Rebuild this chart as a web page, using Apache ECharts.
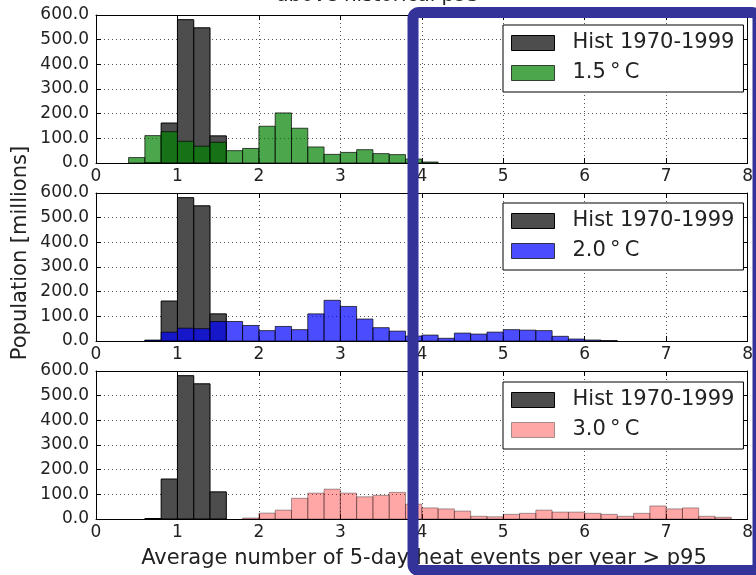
<!DOCTYPE html>
<html>
<head>
<meta charset="utf-8">
<script src="https://cdn.jsdelivr.net/npm/echarts@6/dist/echarts.min.js"></script>
<style>
  html, body { margin: 0; padding: 0; background: #fff; }
  #chart { width: 756px; height: 575px; }
</style>
</head>
<body>
<div id="chart"></div>
<script>
// left edges of the 0.2-wide bins
const binEdges = [
  0.0, 0.2, 0.4, 0.6, 0.8, 1.0, 1.2, 1.4, 1.6, 1.8,
  2.0, 2.2, 2.4, 2.6, 2.8, 3.0, 3.2, 3.4, 3.6, 3.8,
  4.0, 4.2, 4.4, 4.6, 4.8, 5.0, 5.2, 5.4, 5.6, 5.8,
  6.0, 6.2, 6.4, 6.6, 6.8, 7.0, 7.2, 7.4, 7.6, 7.8,
]
const BIN = 0.2

// population (millions) per bin
const hist = [
  0, 0, 0, 2, 162, 581, 548, 110, 0, 0,
  0, 0, 0, 0, 0, 0, 0, 0, 0, 0,
  0, 0, 0, 0, 0, 0, 0, 0, 0, 0,
  0, 0, 0, 0, 0, 0, 0, 0, 0, 0,
]
const warm15 = [
  0, 0, 22, 111, 127, 88, 68, 84, 50, 59,
  149, 203, 141, 65, 35, 43, 54, 38, 34, 16,
  4, 0, 0, 0, 0, 0, 0, 0, 0, 0,
  0, 0, 0, 0, 0, 0, 0, 0, 0, 0,
]
const warm20 = [
  0, 0, 0, 4, 36, 52, 50, 79, 79, 63,
  42, 59, 46, 110, 165, 140, 89, 54, 40, 20,
  24, 11, 32, 28, 36, 46, 44, 42, 19, 8,
  4, 2, 0, 0, 0, 0, 0, 0, 0, 0,
]
const warm30 = [
  0, 0, 0, 0, 0, 0, 0, 0, 0, 4,
  24, 36, 84, 105, 121, 105, 90, 96, 108, 60,
  45, 41, 32, 11, 9, 19, 23, 36, 28, 28,
  23, 19, 11, 23, 53, 41, 45, 11, 7, 0,
]

const HIST_NAME = 'Hist 1970-1999'
const FONT = 'DejaVu Sans'
const TEXT = '#222'

const panels = [
  { top: 15, name: '1.5\u2009°\u2009C', values: warm15, fill: 'rgba(0,128,0,0.7)', stroke: 'rgba(0,0,0,0.7)', legendTop: 25 },
  { top: 193, name: '2.0\u2009°\u2009C', values: warm20, fill: 'rgba(0,0,255,0.7)', stroke: 'rgba(0,0,0,0.7)', legendTop: 203 },
  { top: 371, name: '3.0\u2009°\u2009C', values: warm30, fill: 'rgba(255,0,0,0.35)', stroke: 'rgba(0,0,0,0.35)', legendTop: 382 },
]

const renderBin = (params, api) => {
  const v = api.value(1)
  if (!v) return null
  const start = api.coord([api.value(0), 0])
  const end = api.coord([api.value(0) + BIN, v])
  return {
    type: 'rect',
    shape: { x: start[0], y: end[1], width: end[0] - start[0], height: start[1] - end[1] },
    style: api.style(),
  }
}

const toData = values => binEdges.map((e, i) => [e, values[i]])

const grid = []
const xAxis = []
const yAxis = []
const series = []
const legend = []

panels.forEach((p, k) => {
  grid.push({ left: 96, right: 4, top: p.top, height: 148 })

  const tick = { show: true, inside: true, length: 5, lineStyle: { color: '#000' } }
  const line = { show: true, onZero: false, lineStyle: { color: '#000', width: 1 } }
  const split = { show: true, lineStyle: { color: '#555', type: [1, 3], width: 1 } }

  xAxis.push({
    type: 'value', gridIndex: k, min: 0, max: 8, interval: 1, position: 'bottom',
    axisLine: line, axisTick: tick, splitLine: split,
    axisLabel: { margin: 5, color: TEXT, fontSize: 17, fontFamily: FONT },
  })
  xAxis.push({
    type: 'value', gridIndex: k, min: 0, max: 8, interval: 1, position: 'top',
    axisLine: line, axisTick: tick, splitLine: { show: false }, axisLabel: { show: false },
  })
  yAxis.push({
    type: 'value', gridIndex: k, min: 0, max: 600, interval: 100, position: 'left',
    axisLine: line, axisTick: tick, splitLine: split,
    axisLabel: { margin: 7, color: TEXT, fontSize: 17, fontFamily: FONT, formatter: v => v.toFixed(1) },
  })
  yAxis.push({
    type: 'value', gridIndex: k, min: 0, max: 600, interval: 100, position: 'right',
    axisLine: line, axisTick: tick, splitLine: { show: false }, axisLabel: { show: false },
  })

  series.push({
    type: 'custom', name: HIST_NAME, xAxisIndex: 2 * k, yAxisIndex: 2 * k,
    renderItem: renderBin, clip: true, encode: { x: 0, y: 1 },
    itemStyle: { color: '#4d4d4d', borderColor: '#000', borderWidth: 1 },
    data: toData(hist),
  })
  series.push({
    type: 'custom', name: p.name, xAxisIndex: 2 * k, yAxisIndex: 2 * k,
    renderItem: renderBin, clip: true, encode: { x: 0, y: 1 },
    itemStyle: { color: p.fill, borderColor: p.stroke, borderWidth: 1 },
    data: toData(p.values),
  })

  legend.push({
    orient: 'vertical', left: 503, top: p.legendTop,
    backgroundColor: '#fff', borderColor: '#000', borderWidth: 1, borderRadius: 0,
    padding: [6, 9, 7, 8], itemGap: 6, itemWidth: 43, itemHeight: 15,
    selectedMode: false, icon: 'rect',
    textStyle: { fontSize: 21, lineHeight: 24, color: TEXT, fontFamily: FONT, padding: [0, 0, 0, 13] },
    data: [
      { name: HIST_NAME, itemStyle: { color: '#4d4d4d', borderColor: '#000', borderWidth: 1 } },
      { name: p.name, itemStyle: { color: p.fill, borderColor: p.stroke, borderWidth: 1 } },
    ],
  })
})

const chart = echarts.init(document.getElementById('chart'))
chart.setOption({
  animation: false,
  textStyle: { fontFamily: FONT },
  grid, xAxis, yAxis, series, legend,
  graphic: [
    {
      type: 'text', left: 'center', top: -14, z: 10,
      style: { text: 'above historical p95', fontSize: 20, fontFamily: FONT, fill: TEXT },
    },
    {
      type: 'text', x: 21, y: 253, rotation: Math.PI / 2, z: 10,
      style: { text: 'Population [millions]', fontSize: 21, fontFamily: FONT, fill: TEXT, align: 'center', verticalAlign: 'middle' },
    },
    {
      type: 'text', x: 424, y: 559, z: 10,
      style: { text: 'Average number of 5-day heat events per year > p95', fontSize: 21, fontFamily: FONT, fill: TEXT, align: 'center', verticalAlign: 'middle' },
    },
    {
      type: 'rect', z: 100,
      shape: { x: 413, y: 12.5, width: 345, height: 558, r: 6 },
      style: { fill: null, stroke: '#333399', lineWidth: 11 },
    },
  ],
})
</script>
</body>
</html>
